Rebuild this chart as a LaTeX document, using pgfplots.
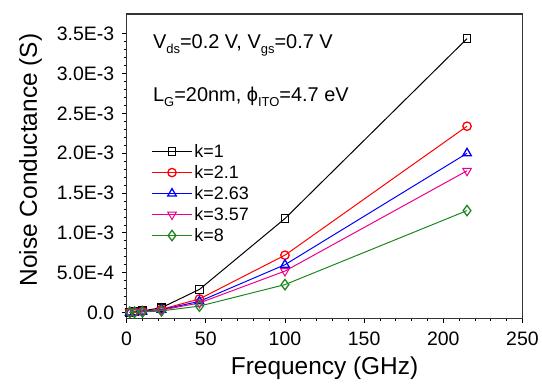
\documentclass[border=0pt]{standalone}
\usepackage{pgfplots}
\pgfplotsset{compat=1.18}
\usepackage{fontspec}
\setmainfont{Liberation Sans}
\definecolor{kgreen}{RGB}{30,135,30}
\newcommand{\sub}[1]{\raisebox{-0.45ex}{\fontsize{13}{13}\selectfont #1}}
\begin{document}
\begin{tikzpicture}
\begin{axis}[
  at={(0,0)}, anchor=south west,
  scale only axis, width=397pt, height=305pt,
  xmin=0, xmax=250, ymin=-0.00007, ymax=0.00375,
  xtick={0,50,...,250},
  ytick={0,0.0005,0.001,0.0015,0.002,0.0025,0.003,0.0035},
  yticklabels={0.0,5.0E-4,1.0E-3,1.5E-3,2.0E-3,2.5E-3,3.0E-3,3.5E-3},
  scaled ticks=false,
  minor x tick num=4, minor y tick num=4,
  xtick pos=bottom, ytick pos=left,
  tick align=outside,
  major tick length=5pt, minor tick length=3pt,
  every tick/.style={black, line width=0.8pt},
  axis line style={line width=1.1pt, black!80},
  /pgf/number format/assume math mode=true,
  ticklabel style={font=\fontsize{19.5}{19.5}\selectfont},
  xticklabel style={yshift=-5pt},
  yticklabel style={xshift=-4pt},
  xlabel={Frequency (GHz)}, ylabel={Noise Conductance (S)},
  label style={font=\fontsize{24.5}{24.5}\selectfont},
  xlabel style={yshift=-5pt},
  ylabel style={yshift=8pt, xshift=6pt},
  legend style={draw=none, fill=none, at={(0.055,0.585)}, anchor=north west,
    font=\fontsize{18}{18}\selectfont, row sep=2.5pt,
    legend image code/.code={\draw[mark repeat=2,mark phase=2] plot coordinates {(0pt,0pt) (20pt,0pt) (40pt,0pt)};}},
  legend cell align=left,
  every axis plot/.append style={line width=1pt, mark options={solid, line width=1.3pt, fill=white}},
]
\addplot[black, mark=square, mark size=3.8pt] coordinates {
 (2,0.000002) (5,0.000008) (10,0.00002) (22,0.00006) (46,0.00029) (100,0.00118) (215,0.00344)};
\addlegendentry{k=1}
\addplot[red, mark=o, mark size=4.2pt] coordinates {
 (2,0.000001) (5,0.000005) (10,0.000015) (22,0.00004) (46,0.00017) (100,0.00072) (215,0.00234)};
\addlegendentry{k=2.1}
\addplot[blue, mark=triangle, mark size=5pt] coordinates {
 (2,0.000001) (5,0.000004) (10,0.000012) (22,0.000035) (46,0.00014) (100,0.0006) (215,0.002)};
\addlegendentry{k=2.63}
\addplot[magenta, mark=triangle, mark size=5pt, mark options={rotate=180}] coordinates {
 (2,0.000001) (5,0.000004) (10,0.00001) (22,0.00003) (46,0.00012) (100,0.00052) (215,0.00178)};
\addlegendentry{k=3.57}
\addplot[kgreen, mark=diamond, mark size=5.2pt] coordinates {
 (2,0.0000005) (5,0.000002) (10,0.000006) (22,0.00002) (46,0.00008) (100,0.00035) (215,0.00128)};
\addlegendentry{k=8}
\node[anchor=base west, font=\fontsize{20}{20}\selectfont] at (axis cs:14.5,0.00331)
  {V\sub{ds}=0.2 V, V\sub{gs}=0.7 V};
\node[anchor=base west, font=\fontsize{20}{20}\selectfont] at (axis cs:14.5,0.00265)
  {L\sub{G}=20nm, ϕ\sub{ITO}=4.7 eV};
\end{axis}
\path[use as bounding box] (-127pt,-64pt) rectangle (415pt,319pt);
\end{tikzpicture}
\end{document}
